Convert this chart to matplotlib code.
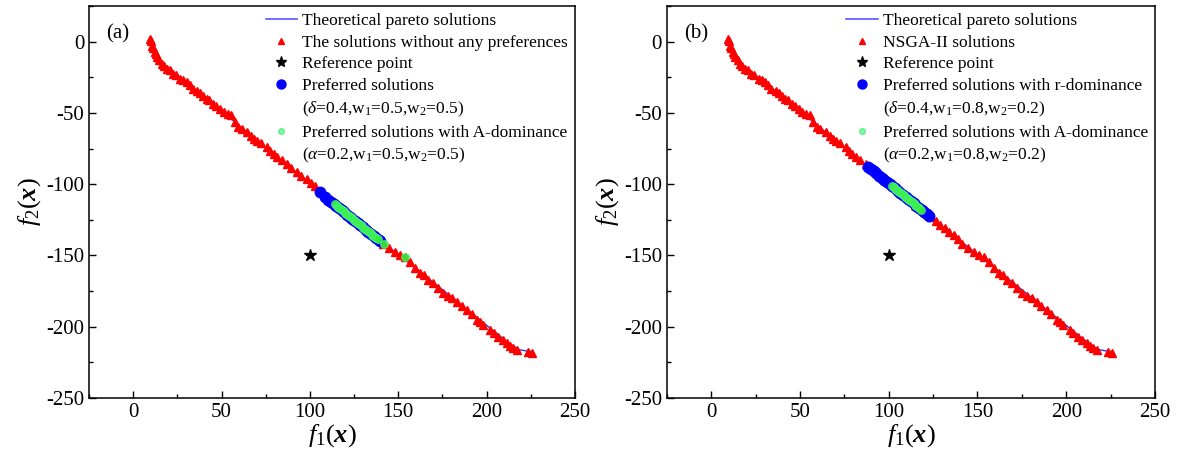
import numpy as np
import matplotlib.pyplot as plt
from matplotlib.lines import Line2D
from matplotlib.ticker import MultipleLocator

plt.rcParams['font.family'] = ['Liberation Serif', 'DejaVu Serif']
plt.rcParams['mathtext.fontset'] = 'custom'
plt.rcParams['mathtext.rm'] = 'Liberation Serif'
plt.rcParams['mathtext.it'] = 'Liberation Serif:italic'
plt.rcParams['mathtext.bf'] = 'Liberation Serif:italic:bold'
plt.rcParams['axes.unicode_minus'] = False

# theoretical front
front_f1 = [9.5, 11, 13, 16, 20, 30, 45, 60, 80, 100, 120, 140, 160, 180, 200, 212, 218, 225]
front_f2 = [1.5, -4, -9, -14.5, -19.5, -28.5, -43.5, -59, -79.5, -99, -119.5, -139.5,
            -159, -179, -199, -211, -216, -217.5]

# NSGA-II solutions (no preferences)
ns_f1 = [9.6, 10.2, 10.7, 11.3, 12.4, 13.0, 13.6, 14.8, 16.4, 17.5, 19.2, 20.8, 22.6, 24.3,
         26.6, 28.4, 30.5, 32.0, 33.9, 36.2, 37.9, 39.6, 41.5, 43.0, 45.2, 47.0, 49.2, 51.3,
         53.5, 55.5, 57.5, 59.4, 61.5, 64.5, 66.8, 68.5, 70.1, 72.5, 75.8, 77.5, 79.5, 81.4,
         84.0, 87.1, 89.5, 92.8, 95.0, 98.4, 100.5, 103.0, 106, 109, 112, 115, 118, 121, 124,
         126.5, 129, 131.5, 134, 136.5, 139, 141.4, 144.5, 148.2, 151, 153.8, 156.7, 159.5,
         162.3, 164.5, 166.9, 169.7, 172.5, 175.3, 178, 180.5, 183.3, 186, 188.9, 191.5,
         194.6, 196.5, 198.0, 201.9, 204, 206.4, 209, 211.5, 213.5, 215.0, 217.2, 223.4, 225.7]
ns_f2 = [2.1, 0.5, -2.8, -4.5, -7.0, -8.5, -10.6, -12.6, -15.5, -16.8, -19.0, -20.2, -22.5,
         -23.6, -26.1, -27.0, -28.2, -30.6, -33.1, -35.0, -36.0, -38.0, -40.3, -41.2, -43.7,
         -45.0, -47.2, -49.5, -51.0, -51.5, -56.5, -59.9, -61.0, -63.4, -66.0, -68.2, -69.7,
         -71.0, -73.9, -76.5, -79.0, -81.0, -83.0, -85.9, -88.5, -91.5, -94.2, -96.5, -99.5,
         -101.5, -104.5, -108, -111, -114.5, -117, -120.5, -123, -126, -128.5, -130.5, -133.5,
         -135.5, -138.5, -142.3, -144.5, -147.9, -149.5, -151.4, -154.9, -158.5, -162.0,
         -164.0, -166.9, -169.0, -172.5, -176.0, -178.5, -180.0, -182.4, -185.5, -188.0,
         -191.0, -195.0, -196.5, -198.6, -202.0, -204.5, -207.0, -209.5, -211.3, -213.5,
         -214.8, -216.2, -217.6, -218.3]

ref_point = (100, -150)

# (a) preferred solutions, delta=0.4 w=0.5/0.5
pa_f1 = [105.8, 108.5, 110.5, 112, 113.5, 115, 116.5, 118, 119.5, 121, 122.5, 124, 125.5,
         127, 128.5, 130, 131.5, 133, 134.5, 136, 137.5, 139, 139.7]
pa_f2 = [-105.6, -108.8, -110.8, -112.2, -113.8, -115.2, -116.8, -118.3, -119.8, -121.3,
         -122.8, -124.2, -125.8, -127.3, -128.8, -130.3, -131.8, -133.3, -134.8, -136.3,
         -137.8, -139.3, -140]
# (a) A-dominance, alpha=0.2
aa_f1 = [114.3, 115.1, 115.9, 116.7, 117.5, 118.3, 119.1, 119.9, 120.7, 121.5, 122.3, 123.1,
         123.9, 124.7, 125.5, 126.3, 127.1, 127.9, 128.7, 129.5, 130.3, 131.1, 131.9, 132.7,
         133.5, 134.3, 135.1, 135.9, 136.7, 137.5, 138.6, 142, 153.8]
aa_f2 = [-114.2, -115.0, -115.8, -116.6, -117.5, -118.3, -119.1, -119.9, -120.7, -121.5,
         -122.3, -123.1, -124.0, -124.8, -125.6, -126.4, -127.2, -128.0, -128.8, -129.6,
         -130.5, -131.3, -132.1, -132.9, -133.7, -134.5, -135.3, -136.1, -136.9, -137.8,
         -138.8, -142.3, -151.4]

# (b) r-dominance, delta=0.4 w=0.8/0.2
pb_f1 = [88.5, 90, 91.5, 93, 94.5, 96, 97.5, 99, 100.5, 102, 103.5, 105, 106.5, 108, 109.5,
         111, 112.5, 114, 115.5, 117, 118.5, 120, 121.5, 122.9]
pb_f2 = [-88.0, -89.5, -91.0, -92.5, -94.0, -95.5, -97.0, -98.5, -100.0, -101.5, -103.0,
         -104.5, -106.0, -107.5, -109.0, -110.5, -112.0, -113.5, -115.0, -116.5, -118.0,
         -119.5, -121.0, -122.4]
# (b) A-dominance, alpha=0.2
ab_f1 = [102, 102.8, 103.6, 104.4, 105.2, 106, 106.8, 107.6, 108.4, 109.2, 110, 110.8,
         111.6, 112.4, 113.2, 114, 114.8, 115.6, 116.4, 117.2, 118.4]
ab_f2 = [-101.5, -102.3, -103.1, -103.9, -104.7, -105.5, -106.3, -107.1, -107.9, -108.7,
         -109.5, -110.3, -111.1, -111.9, -112.7, -113.5, -114.3, -115.1, -115.9, -116.7,
         -117.9]

panels = [
    ('(a)', 'The solutions without any preferences', 'Preferred solutions',
     r'($\delta$=0.4,w$_1$=0.5,w$_2$=0.5)', r'($\alpha$=0.2,w$_1$=0.5,w$_2$=0.5)',
     pa_f1, pa_f2, aa_f1, aa_f2),
    ('(b)', 'NSGA-II solutions', 'Preferred solutions with r-dominance',
     r'($\delta$=0.4,w$_1$=0.8,w$_2$=0.2)', r'($\alpha$=0.2,w$_1$=0.8,w$_2$=0.2)',
     pb_f1, pb_f2, ab_f1, ab_f2),
]

fig = plt.figure(figsize=(11.79, 4.57), dpi=100)
lefts = [0.0755, 0.5657]
widths = [0.4122, 0.4139]

for k, (tag, lab_ns, lab_p, lab_p2, lab_a2, p1, p2, a1, a2) in enumerate(panels):
    ax = fig.add_axes([lefts[k], 0.129, widths[k], 0.858])
    ax.plot(front_f1, front_f2, color='#3333ff', lw=1.0, zorder=1)
    ax.plot(ns_f1, ns_f2, '^', color='#ff0000', ms=6, mec='#ff0000', ls='none', zorder=2)
    ax.plot(*ref_point, '*', color='black', ms=9, ls='none', zorder=3)
    ax.plot(p1, p2, 'o', color='#0000ff', ms=7.5, ls='none', zorder=4)
    ax.plot(a1, a2, 'o', mfc='#33ee33', mec='#44f070', mew=0.8, ms=5.5, alpha=0.9,
            ls='none', zorder=5)

    ax.set_xlim(-25, 250)
    ax.set_ylim(-250, 25)
    ax.xaxis.set_major_locator(MultipleLocator(50))
    ax.xaxis.set_minor_locator(MultipleLocator(25))
    ax.yaxis.set_major_locator(MultipleLocator(50))
    ax.yaxis.set_minor_locator(MultipleLocator(25))
    ax.tick_params(which='both', direction='in', labelsize=15, width=1)
    ax.tick_params(which='major', length=5)
    ax.tick_params(which='minor', length=3)
    for s in ax.spines.values():
        s.set_linewidth(1.1)

    ax.set_xlabel(r'$\mathit{f}_{\mathit{1}}\mathit{(}\mathbf{x}\mathit{)}$', fontsize=19, labelpad=0)
    ax.set_ylabel(r'$\mathit{f}_{\mathit{2}}\mathit{(}\mathbf{x}\mathit{)}$', fontsize=19, labelpad=2)
    ax.text(0.035, 0.93, tag, transform=ax.transAxes, fontsize=15, va='center')

    blank = Line2D([], [], ls='none')
    handles = [
        Line2D([], [], color='#5555ff', lw=1.2),
        Line2D([], [], marker='^', color='#ff0000', ms=5, ls='none'),
        Line2D([], [], marker='*', color='black', ms=8, ls='none'),
        Line2D([], [], marker='o', color='#0000ff', ms=6.5, ls='none'),
        blank,
        Line2D([], [], marker='o', mfc='#80ffb0', mec='#60f080', ms=4, ls='none'),
        blank,
    ]
    labels = ['Theoretical pareto solutions', lab_ns, 'Reference point', lab_p, lab_p2,
              'Preferred solutions with A-dominance', lab_a2]
    ax.legend(handles, labels, loc='upper right', frameon=False, fontsize=12.5,
              handlelength=1.8, handletextpad=0.3, labelspacing=0.32,
              borderaxespad=0.2, borderpad=0.2)

fig.savefig('out.png', dpi=100)
